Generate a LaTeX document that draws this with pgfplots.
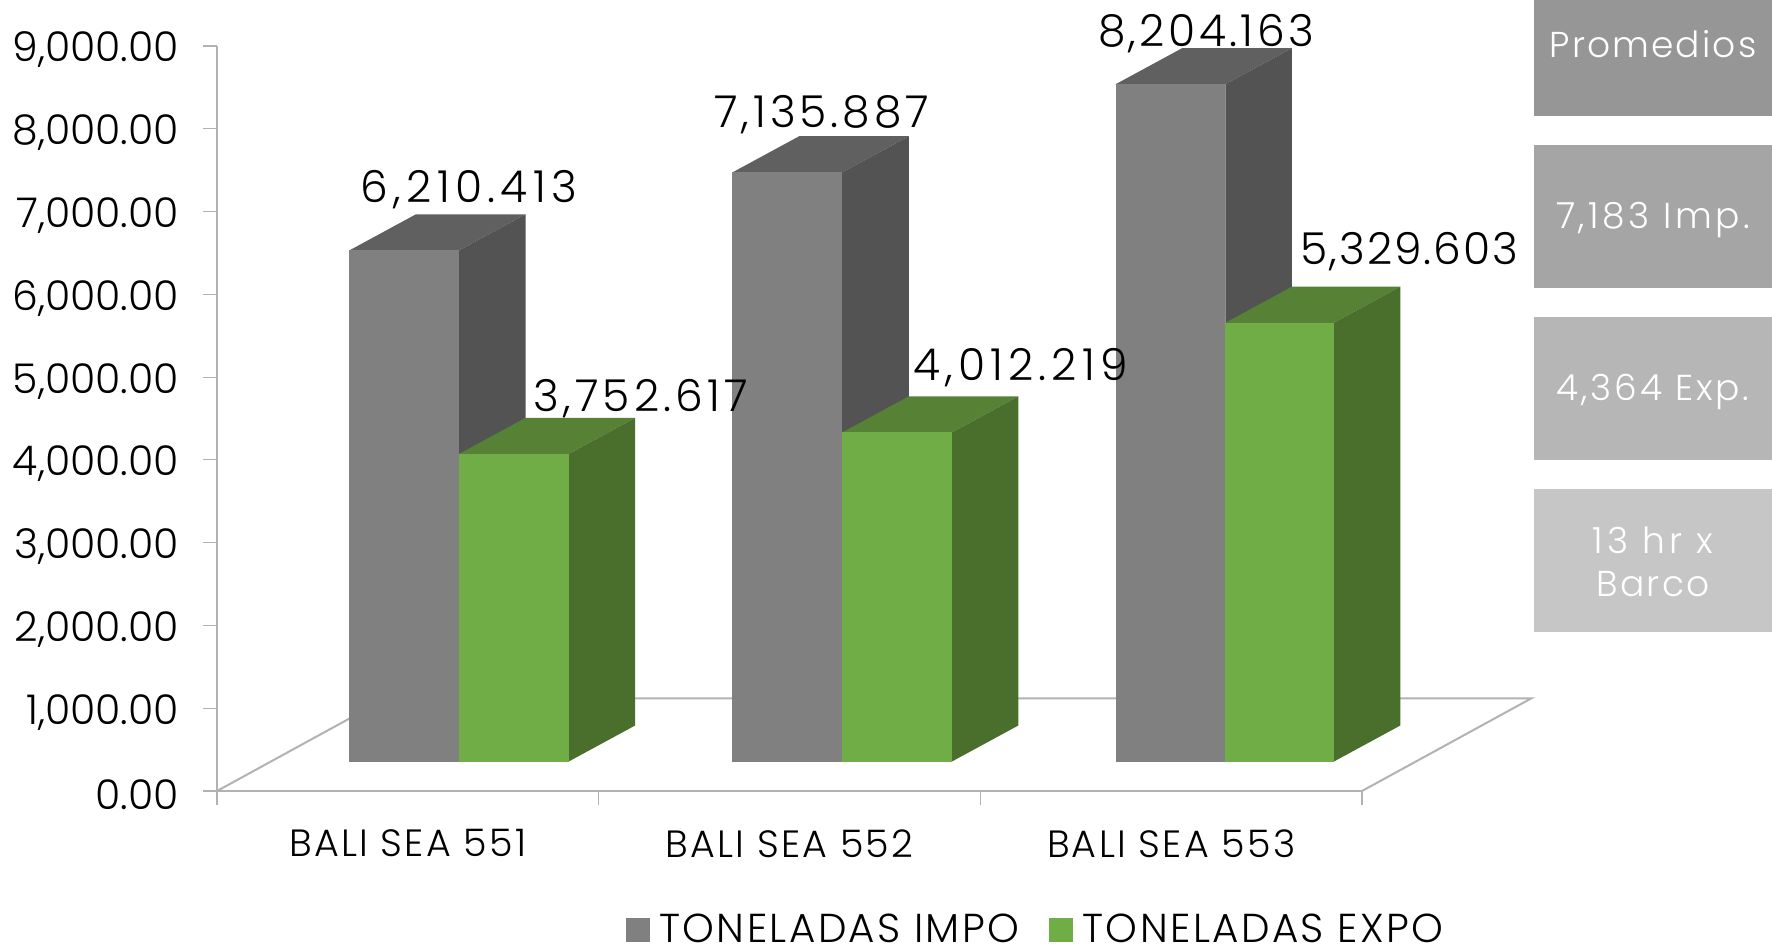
\documentclass[border=0pt]{standalone}
\usepackage{fontspec}
\setmainfont{Poppins Light}
\newfontfamily\spacedsix[LetterSpace=6]{Poppins Light}
\newcommand{\lbl}[2]{\fontsize{#1}{#1}\selectfont\addfontfeature{LetterSpace=#2}}
\usepackage{pgfplots}
\pgfplotsset{compat=1.18}

\definecolor{grayfront}{HTML}{808080}
\definecolor{grayside}{HTML}{535353}
\definecolor{graytop}{HTML}{606060}
\definecolor{greenfront}{HTML}{70AD47}
\definecolor{greenside}{HTML}{4A6E2B}
\definecolor{greentop}{HTML}{578236}
\definecolor{floorline}{HTML}{B2B2B2}
\definecolor{boxa}{HTML}{969696}
\definecolor{boxb}{HTML}{A5A5A5}
\definecolor{boxc}{HTML}{B6B6B6}
\definecolor{boxd}{HTML}{C6C6C6}

\begin{document}
\begin{tikzpicture}[x=0.5pt,y=0.5pt]
\path[use as bounding box] (0,0) rectangle (1772,948);

% side boxes
\fill[boxa] (1534,832) rectangle (1772,948);
\fill[boxb] (1534,660) rectangle (1772,803);
\fill[boxc] (1534,488) rectangle (1772,631);
\fill[boxd] (1534,316) rectangle (1772,459);
\begin{scope}[every node/.style={text=white,anchor=center}]
\node[font=\lbl{18}{6}] at (1653,904) {Promedios};
\node[font=\lbl{18}{10}] at (1653,728) {7,183 Imp.};
\node[font=\lbl{18}{8}] at (1653,556) {4,364 Exp.};
\node[font=\lbl{18}{12}] at (1653,408) {13 hr x};
\node[font=\lbl{18}{6}] at (1653,364) {Barco};
\end{scope}

\begin{axis}[
    at={(108.5pt,78.5pt)},
    anchor=south west,
    scale only axis,
    width=572.5pt,
    height=372.5pt,
    xmin=0, xmax=3,
    ymin=0, ymax=9000,
    clip=false,
    axis lines=left,
    axis line style={draw=floorline,line width=1pt,-},
    ytick={0,1000,...,9000},
    xtick={0.5,1.5,2.5},
    xticklabels={BALI SEA 551,BALI SEA 552,BALI SEA 553},
    minor xtick={0,1,2,3},
    major x tick style={draw=none},
    minor tick length=7pt,
    major tick length=7pt,
    tick style={draw=floorline,line width=0.6pt},
    tick align=outside,
    /pgf/number format/fixed,
    /pgf/number format/fixed zerofill,
    /pgf/number format/precision=2,
    /pgf/number format/1000 sep={,},
    /pgf/number format/assume math mode=true,
    yticklabel style={font=\fontsize{20.5}{20.5}\selectfont,xshift=-8.5pt,yshift=-2pt},
    xticklabel style={font=\spacedsix\fontsize{19}{19}\selectfont,yshift=-8.7pt},
    legend columns=2,
    legend style={at={(0.716,-0.186)},anchor=center,draw=none,fill=none,
      font=\spacedsix\fontsize{20.2}{20.2}\selectfont,
      /tikz/every odd column/.append style={column sep=2.5pt},
      /tikz/every even column/.append style={column sep=13pt}},
    legend cell align=left,
    legend image code/.code={\fill[#1] (0pt,-6pt) rectangle (12pt,6pt);},
]
% floor
\addplot[draw=floorline,line width=1pt,forget plot] coordinates {(0,0) (0.444,1120) (3.444,1120) (3,0)};

% group 1
\addplot[fill=graytop,draw=none,forget plot] coordinates {(0.3465,6530) (0.5212,6967) (0.8085,6967) (0.6338,6530)} --cycle;
\addplot[fill=grayside,draw=none,forget plot] coordinates {(0.6338,355) (0.8085,792) (0.8085,6967) (0.6338,6530)} --cycle;
\addplot[fill=grayfront,draw=none] coordinates {(0.3465,355) (0.6338,355) (0.6338,6530) (0.3465,6530)} --cycle;
\addplot[fill=greentop,draw=none,forget plot] coordinates {(0.6338,4071) (0.8085,4508) (1.0958,4508) (0.9211,4071)} --cycle;
\addplot[fill=greenside,draw=none,forget plot] coordinates {(0.9211,355) (1.0958,792) (1.0958,4508) (0.9211,4071)} --cycle;
\addplot[fill=greenfront,draw=none] coordinates {(0.6338,355) (0.9211,355) (0.9211,4071) (0.6338,4071)} --cycle;
% group 2
\addplot[fill=graytop,draw=none,forget plot] coordinates {(1.3505,7473) (1.5252,7910) (1.8125,7910) (1.6378,7473)} --cycle;
\addplot[fill=grayside,draw=none,forget plot] coordinates {(1.6378,355) (1.8125,792) (1.8125,7910) (1.6378,7473)} --cycle;
\addplot[fill=grayfront,draw=none,forget plot] coordinates {(1.3505,355) (1.6378,355) (1.6378,7473) (1.3505,7473)} --cycle;
\addplot[fill=greentop,draw=none,forget plot] coordinates {(1.6378,4331) (1.8125,4768) (2.0998,4768) (1.9251,4331)} --cycle;
\addplot[fill=greenside,draw=none,forget plot] coordinates {(1.9251,355) (2.0998,792) (2.0998,4768) (1.9251,4331)} --cycle;
\addplot[fill=greenfront,draw=none,forget plot] coordinates {(1.6378,355) (1.9251,355) (1.9251,4331) (1.6378,4331)} --cycle;
% group 3
\addplot[fill=graytop,draw=none,forget plot] coordinates {(2.3544,8538) (2.5291,8975) (2.8164,8975) (2.6417,8538)} --cycle;
\addplot[fill=grayside,draw=none,forget plot] coordinates {(2.6417,355) (2.8164,792) (2.8164,8975) (2.6417,8538)} --cycle;
\addplot[fill=grayfront,draw=none,forget plot] coordinates {(2.3544,355) (2.6417,355) (2.6417,8538) (2.3544,8538)} --cycle;
\addplot[fill=greentop,draw=none,forget plot] coordinates {(2.6417,5656) (2.8164,6093) (3.1007,6093) (2.926,5656)} --cycle;
\addplot[fill=greenside,draw=none,forget plot] coordinates {(2.926,355) (3.1007,792) (3.1007,6093) (2.926,5656)} --cycle;
\addplot[fill=greenfront,draw=none,forget plot] coordinates {(2.6417,355) (2.926,355) (2.926,5656) (2.6417,5656)} --cycle;

\legend{TONELADAS IMPO,TONELADAS EXPO}

% value labels
\node[font=\lbl{22}{12}] at (axis cs:0.6604,7260) {6,210.413};
\node[font=\lbl{22}{9.5}] at (axis cs:1.1106,4745) {3,752.617};
\node[font=\lbl{22}{9}] at (axis cs:1.5844,8175) {7,135.887};
\node[font=\lbl{22}{11.7}] at (axis cs:2.1056,5115) {4,012.219};
\node[font=\lbl{22}{7.7}] at (axis cs:2.5913,9145) {8,204.163};
\node[font=\lbl{22}{4.6}] at (axis cs:3.1244,6520) {5,329.603};
\end{axis}
\end{tikzpicture}
\end{document}
